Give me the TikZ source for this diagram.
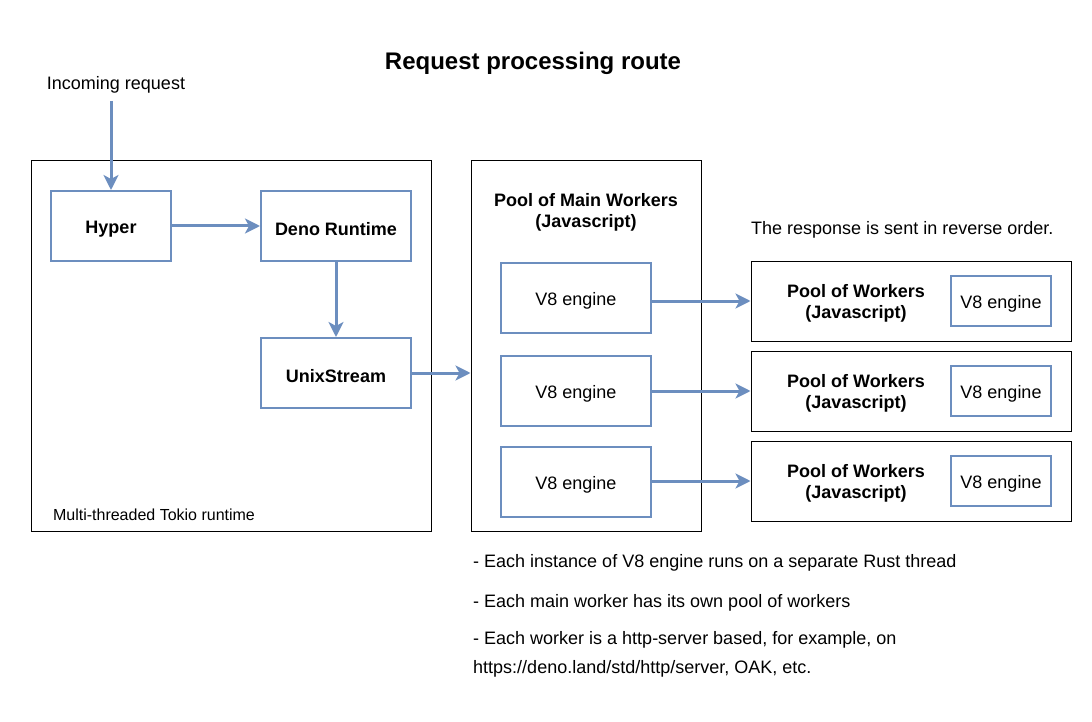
\documentclass[tikz,border=0pt]{standalone}
\usepackage{fontspec}
\setmainfont{Liberation Sans}
\usetikzlibrary{arrows.meta}
\definecolor{routeblue}{HTML}{6C8EBF}
\newcommand{\lowertxt}[1]{\raisebox{-3pt}[\height][\depth]{#1}}

\begin{document}
\begin{tikzpicture}[x=1pt, y=-1pt,
    txt/.style={inner sep=0pt, font=\fontsize{18}{21}\selectfont},
    bold/.style={txt, font=\fontsize{18}{21}\selectfont\bfseries, align=center},
    bluebox/.style={draw=routeblue, line width=2pt, inner sep=0pt, minimum width=#1},
    frame/.style={draw=black, line width=1pt, inner sep=0pt},
    flow/.style={draw=routeblue, line width=3pt, -{Stealth[length=15pt, width=15pt, inset=4pt]}}]
    \useasboundingbox (0,0) rectangle (1092,722);
    \node[bold, font=\fontsize{24}{28}\selectfont\bfseries] (title) at (533,63) {Request processing route};
    \node[txt] (inlbl) at (116,85) {Incoming request};
    \coordinate (in) at (111,101);
    % tokio runtime
    \node[frame, minimum width=400pt, minimum height=370pt] (tokio) at (231,346) {};
    \node[txt, font=\fontsize{16}{19}\selectfont] (tokiolbl) at (154,515) {Multi-threaded Tokio runtime};
    \node[bluebox=120pt, minimum height=70pt, bold] (hyper) at (111,226) {\lowertxt{Hyper}};
    \node[bluebox=150pt, minimum height=70pt, bold] (deno) at (336,226) {\lowertxt{Deno Runtime}};
    \node[bluebox=150pt, minimum height=70pt, bold] (unix) at (336,373) {\lowertxt{UnixStream}};
    % main workers
    \node[frame, minimum width=230pt, minimum height=370pt] (main) at (586,346) {};
    \node[bold] (mainlbl) at (586,212) {Pool of Main Workers\\(Javascript)};
    \node[bluebox=150pt, minimum height=70pt, txt] (vA) at (576,298) {\lowertxt{V8 engine}};
    \node[bluebox=150pt, minimum height=70pt, txt] (vB) at (576,391) {\lowertxt{V8 engine}};
    \node[bluebox=150pt, minimum height=70pt, txt] (vC) at (576,482) {\lowertxt{V8 engine}};
    % worker pools
    \node[txt, anchor=west] (resp) at (751,230) {The response is sent in reverse order.};
    \foreach \n/\y in {A/301, B/391, C/481} {
        \node[frame, minimum width=320pt, minimum height=80pt] (pool\n) at (911,\y) {};
        \node[bold] (pool\n lbl) at (856,\y+2) {Pool of Workers\\(Javascript)};
        \node[bluebox=100pt, minimum height=50pt, txt] (pool\n v8) at (1001,\y) {\lowertxt{V8 engine}};
    }
    % arrows
    \draw[flow] (in) -- (hyper.north);
    \draw[flow] (hyper) -- (deno);
    \draw[flow] (deno) -- (unix);
    \draw[flow] (unix.east) -- (unix.east -| main.west);
    \draw[flow] (vA.east |- poolA.west) -- (poolA.west);
    \draw[flow] (vB.east) -- (poolB.west);
    \draw[flow] (vC.east |- poolC.west) -- (poolC.west);
    % notes
    \node[txt, anchor=west] (noteA) at (473,563) {- Each instance of V8 engine runs on a separate Rust thread};
    \node[txt, anchor=west] (noteB) at (473,603) {- Each main worker has its own pool of workers};
    \node[txt, anchor=west, align=left, font=\fontsize{18}{29}\selectfont] (noteC) at (473,654) {- Each worker is a http-server based, for example, on\\https://deno.land/std/http/server, OAK, etc.};
\end{tikzpicture}
\end{document}
